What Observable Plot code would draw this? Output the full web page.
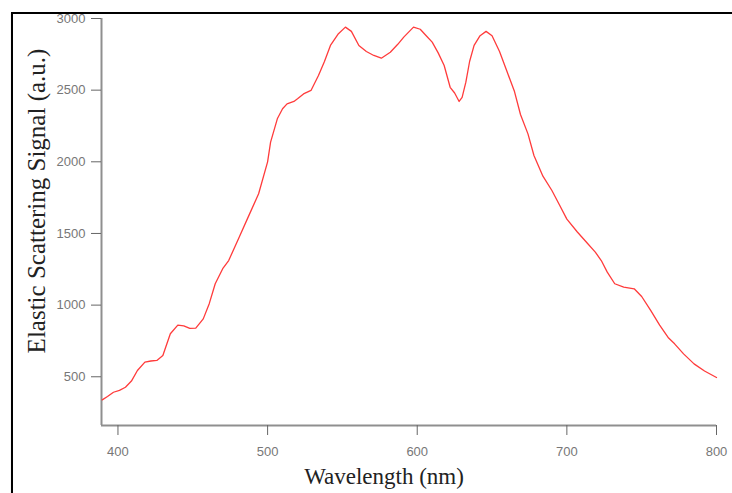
<!DOCTYPE html>
<html>
<head>
<meta charset="utf-8">
<script src="https://cdn.jsdelivr.net/npm/d3@7"></script>
<script src="https://cdn.jsdelivr.net/npm/@observablehq/plot@0.6"></script>
<style>
  html, body { margin: 0; padding: 0; background: #fff; }
  #wrap { position: relative; width: 732px; height: 493px; overflow: hidden; }
  #wrap svg { position: absolute; left: 0; top: 0; }
  #frame {
    position: absolute; left: 11px; top: 12px; width: 800px; height: 600px;
    border: 2px solid #000; box-shadow: 0 1px 1px #ccc; pointer-events: none;
  }
</style>
</head>
<body>
<div id="wrap"><div id="frame"></div></div>
<script>
// Elastic scattering spectrum: wavelength (nm) and signal (a.u.)
const wavelength = [
  389.5, 393, 397, 401, 405, 409, 413, 418, 422, 426, 430, 435, 440, 444, 448, 452,
  457, 461, 465, 470, 474, 481, 487, 494, 500, 502, 506.5, 510, 513, 517.6, 520, 524,
  529, 534, 538, 542, 547, 552, 556, 561, 566, 571, 576, 582, 587, 591, 597.5, 602,
  606, 610, 614, 618, 622, 625, 628, 630, 632.5, 635, 638, 642, 646, 650, 655, 660,
  665, 669, 674, 678, 684, 690, 695, 700, 707, 714, 719, 723, 727, 732, 738, 745,
  750, 756, 762, 768, 772, 778, 785, 792, 800
];
const signal = [
  339, 362, 392, 405, 427, 470, 544, 602, 610, 614, 648, 800, 860, 855, 838, 839,
  904, 1010, 1149, 1254, 1311, 1474, 1614, 1777, 2000, 2137, 2300, 2370, 2404, 2421, 2440, 2474,
  2498, 2602, 2700, 2812, 2890, 2940, 2910, 2812, 2770, 2742, 2723, 2765, 2820, 2870, 2940, 2925,
  2880, 2835, 2760, 2672, 2520, 2480, 2421, 2450, 2556, 2700, 2812, 2880, 2910, 2880, 2770, 2630,
  2490, 2330, 2195, 2044, 1900, 1800, 1700, 1600, 1510, 1428, 1370, 1311, 1230, 1149, 1125, 1114,
  1060, 963, 860, 770, 730, 660, 590, 540, 495
];
const xTicks = [400, 500, 600, 700, 800];
const yTicks = [500, 1000, 1500, 2000, 2500, 3000];
const xLabel = "Wavelength (nm)";
const yLabel = "Elastic Scattering Signal (a.u.)";

const data = wavelength.map((w, i) => ({w, s: signal[i]}));
const axisColor = "#8f8f8f";
const serif = "'Liberation Serif', 'Times New Roman', serif";

const chart = Plot.plot({
  width: 732,
  height: 493,
  marginLeft: 101,
  marginRight: 16,
  marginTop: 18,
  marginBottom: 68,
  style: {fontFamily: "'Liberation Sans', Arial, sans-serif", fontSize: "13px", background: "transparent"},
  x: {domain: [389, 800]},
  y: {domain: [160, 3000]},
  marks: [
    Plot.ruleX([389], {stroke: axisColor, strokeWidth: 2}),
    Plot.ruleY([160], {stroke: axisColor, strokeWidth: 2}),
    Plot.axisX({ticks: xTicks, tickFormat: d3.format("d"), tickSize: 10, tickPadding: 11, stroke: "#666", color: "#777", label: null}),
    Plot.axisY({ticks: yTicks, tickFormat: d3.format("d"), tickSize: 10, tickPadding: 6, stroke: "#666", color: "#777", label: null}),
    Plot.line(data, {x: "w", y: "s", stroke: "#ff3b3b", strokeWidth: 1.3, curve: "linear"}),
    Plot.text([xLabel], {
      frameAnchor: "bottom", textAnchor: "middle", lineAnchor: "middle",
      dx: -25, dy: 51, fontFamily: serif, fontSize: 23, fill: "#222"
    }),
    Plot.text([yLabel], {
      frameAnchor: "left", textAnchor: "middle", lineAnchor: "middle", rotate: -90,
      dx: -65, dy: -21, fontFamily: serif, fontSize: 25, fill: "#222"
    })
  ]
});
document.getElementById("wrap").prepend(chart);
</script>
</body>
</html>
